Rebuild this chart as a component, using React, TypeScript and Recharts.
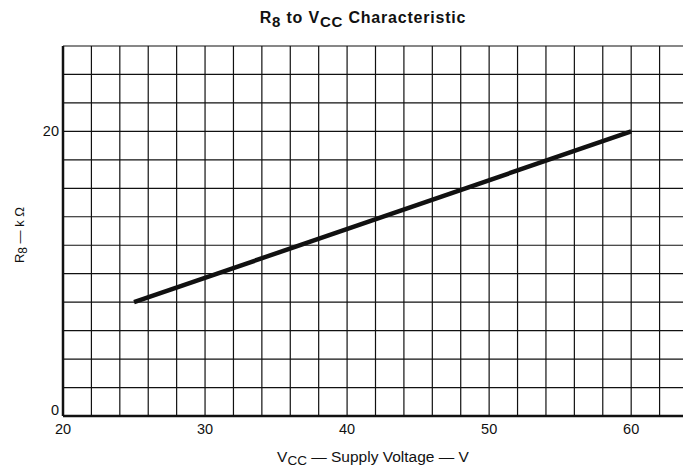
import { LineChart, Line, XAxis, YAxis, CartesianGrid, Label } from 'recharts'

const voltage = [25, 60]
const r8 = [8, 20]

const xTicks = [20, 22, 24, 26, 28, 30, 32, 34, 36, 38, 40, 42, 44, 46, 48, 50, 52, 54, 56, 58, 60, 62, 64]
const yTicks = [0, 2, 4, 6, 8, 10, 12, 14, 16, 18, 20, 22, 24, 26]
const xLabels = [20, 30, 40, 50, 60]
const yLabels = [0, 20]

const data = voltage.map((v, i) => ({ v, r: r8[i] }))

const INK = '#111'
const FONT = '"Liberation Sans", Arial, sans-serif'

function YTick({ x, y, payload }: any) {
  if (!yLabels.includes(payload.value)) return null
  return (
    <text x={x + 4} y={payload.value === 0 ? y - 6 : y} dy={5} textAnchor="end" fontSize={14.5} fill={INK} fontFamily={FONT}>
      {payload.value}
    </text>
  )
}

function XTick({ x, y, payload }: any) {
  if (!xLabels.includes(payload.value)) return null
  return (
    <text x={x} y={y + 10} textAnchor="middle" fontSize={14.5} fill={INK} fontFamily={FONT}>
      {payload.value}
    </text>
  )
}

function XTitle() {
  return (
    <text x={373} y={462} textAnchor="middle" fontSize={15.5} fill={INK} fontFamily={FONT}>
      V<tspan fontSize={13.5} dy={3}>CC</tspan>
      <tspan dy={-3}> — Supply  Voltage — V</tspan>
    </text>
  )
}

function YTitle() {
  return (
    <text x={24} y={235} textAnchor="middle" fontSize={13} fill={INK} fontFamily={FONT} transform="rotate(-90 24 235)">
      R<tspan fontSize={12} dy={3}>8</tspan>
      <tspan dy={-3}> — k Ω</tspan>
    </text>
  )
}

export default function App() {
  return (
    <div style={{ position: 'fixed', left: 0, top: 0, width: 683, height: 470, overflow: 'hidden', background: '#fff' }}>
      <div style={{ position: 'absolute', top: 9, left: 0, width: 726, textAlign: 'center', fontFamily: FONT, fontSize: 16, fontWeight: 'bold', letterSpacing: 0.8, color: INK }}>
        R<span style={{ fontSize: 15, position: 'relative', top: 4 }}>8</span> to V
        <span style={{ fontSize: 15, position: 'relative', top: 4 }}>CC</span> Characteristic
      </div>
      <LineChart width={700} height={470} data={data} margin={{ top: 46, right: 12, bottom: 0, left: 0 }}>
        <CartesianGrid stroke={INK} strokeWidth={1.2} />
        <XAxis
          dataKey="v"
          type="number"
          domain={[20, 64]}
          ticks={xTicks}
          interval={0}
          tick={<XTick />}
          tickLine={false}
          axisLine={{ stroke: INK, strokeWidth: 2.5 }}
          height={54}
        >
          <Label content={<XTitle />} />
        </XAxis>
        <YAxis
          type="number"
          domain={[0, 26]}
          ticks={yTicks}
          interval={0}
          tick={<YTick />}
          tickLine={false}
          axisLine={{ stroke: INK, strokeWidth: 2.5 }}
          width={63}
        >
          <Label content={<YTitle />} />
        </YAxis>
        <Line dataKey="r" stroke={INK} strokeWidth={4.5} dot={false} isAnimationActive={false} />
      </LineChart>
    </div>
  )
}
